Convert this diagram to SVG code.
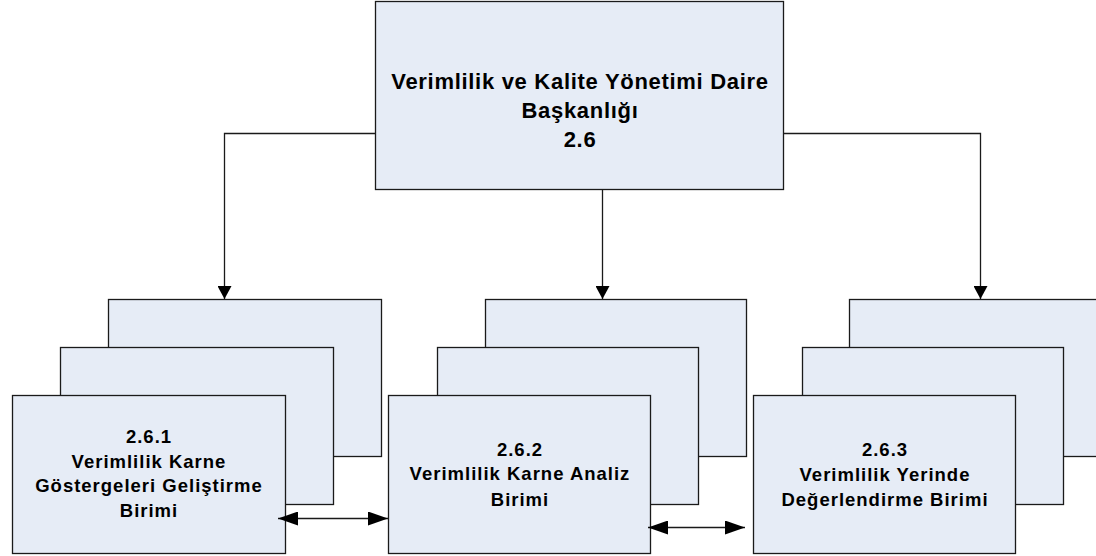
<svg xmlns="http://www.w3.org/2000/svg" width="1096" height="556" viewBox="0 0 1096 556">
  <style>
    .box { fill: #E6ECF6; stroke: #1a1a1a; stroke-width: 1.3; }
    .lbl { font-family: "Liberation Sans", Arial, sans-serif; font-weight: bold; fill: #000; text-anchor: middle; }
    .top { font-size: 22px; letter-spacing: 0.7px; }
    .sub { font-size: 18.5px; letter-spacing: 1px; }
    .con { fill: none; stroke: #1a1a1a; stroke-width: 1.3; }
  </style>
  <defs>
    <marker id="arrV" viewBox="0 0 13 14" refX="13" refY="7" markerWidth="13" markerHeight="14" markerUnits="userSpaceOnUse" orient="auto-start-reverse">
      <path d="M0,0 L13,7 L0,14 z" fill="#000"/>
    </marker>
    <marker id="arrH" viewBox="0 0 20 14" refX="20" refY="7" markerWidth="20" markerHeight="14" markerUnits="userSpaceOnUse" orient="auto-start-reverse">
      <path d="M0,0 L20,7 L0,14 z" fill="#000"/>
    </marker>
  </defs>
  <rect width="1096" height="556" fill="#fff"/>

  <g id="node-2.6">
    <rect class="box" x="375.5" y="1.5" width="408" height="188"/>
    <text class="lbl top" x="580" y="89">Verimlilik ve Kalite Yönetimi Daire</text>
    <text class="lbl top" x="580" y="118">Başkanlığı</text>
    <text class="lbl top" x="580" y="146.5">2.6</text>
  </g>

  <g id="node-2.6.1">
    <rect class="box" x="108.5" y="299.5" width="273" height="157"/>
    <rect class="box" x="60.5" y="347.5" width="273" height="157"/>
    <rect class="box" x="12.5" y="395.5" width="273" height="158"/>
    <text class="lbl sub" x="149" y="443">2.6.1</text>
    <text class="lbl sub" x="149" y="467.5">Verimlilik Karne</text>
    <text class="lbl sub" x="149" y="492">Göstergeleri Geliştirme</text>
    <text class="lbl sub" x="149" y="516.5">Birimi</text>
  </g>

  <g id="node-2.6.2">
    <rect class="box" x="485.5" y="299.5" width="261" height="157"/>
    <rect class="box" x="437.5" y="347.5" width="261" height="157"/>
    <rect class="box" x="388.5" y="395.5" width="262" height="158"/>
    <text class="lbl sub" x="520" y="455.5">2.6.2</text>
    <text class="lbl sub" x="520" y="480">Verimlilik Karne Analiz</text>
    <text class="lbl sub" x="520" y="505.5">Birimi</text>
  </g>

  <g id="node-2.6.3">
    <rect class="box" x="849.5" y="299.5" width="262" height="157"/>
    <rect class="box" x="802.5" y="347.5" width="261" height="157"/>
    <rect class="box" x="753.5" y="395.5" width="262" height="158"/>
    <text class="lbl sub" x="885" y="455.5">2.6.3</text>
    <text class="lbl sub" x="885" y="480.5">Verimlilik Yerinde</text>
    <text class="lbl sub" x="885" y="506">Değerlendirme Birimi</text>
  </g>

  <g id="connectors">
    <path class="con" d="M375.5,133.5 H224.5 V299" marker-end="url(#arrV)"/>
    <path class="con" d="M602.5,189.5 V299" marker-end="url(#arrV)"/>
    <path class="con" d="M783.5,133.5 H980.5 V299" marker-end="url(#arrV)"/>
    <path class="con" d="M278,518.5 H388" marker-start="url(#arrH)" marker-end="url(#arrH)"/>
    <path class="con" d="M648,527.5 H745" marker-start="url(#arrH)" marker-end="url(#arrH)"/>
  </g>
</svg>
